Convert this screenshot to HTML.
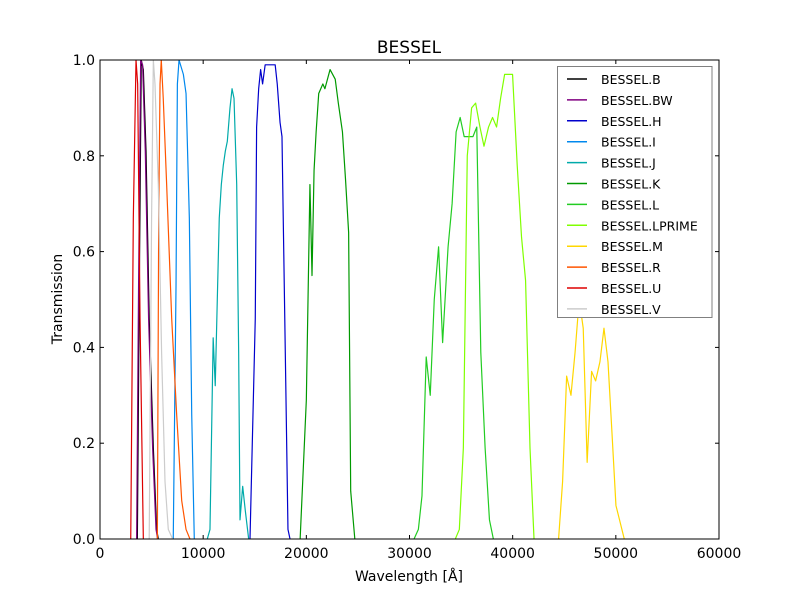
<!DOCTYPE html>
<html><head><meta charset="utf-8">
<style>
body{margin:0;background:#fff;}
svg{display:block;font-family:"DejaVu Sans","Liberation Sans",sans-serif;}
</style></head>
<body>
<svg id="chart" width="800" height="600" viewBox="0 0 800 600" xmlns="http://www.w3.org/2000/svg">
<rect width="800" height="600" fill="#fff"/>
<text x="409" y="53" font-size="17" text-anchor="middle">BESSEL</text>
<g id="plot"></g>
<text x="409" y="581" font-size="14" text-anchor="middle">Wavelength [Å]</text>
<text transform="translate(62,299) rotate(-90)" font-size="14" text-anchor="middle">Transmission</text>
</svg>
<script>
const names = ["BESSEL.B","BESSEL.BW","BESSEL.H","BESSEL.I","BESSEL.J","BESSEL.K","BESSEL.L","BESSEL.LPRIME","BESSEL.M","BESSEL.R","BESSEL.U","BESSEL.V"];
const colors = ["#000000","#800080","#0000cc","#0088ee","#00aaaa","#009900","#22cc22","#80ff00","#ffd700","#ff5500","#dd0000","#cccccc"];
const wlB = [3620,3810,4000,4200,4460,4770,5170,5490,5650];
const trB = [0,0.53,1.0,0.98,0.81,0.46,0.19,0.02,0];
const wlBW = [3550,3740,3940,4130,4390,4710,5100,5430,5590];
const trBW = [0,0.53,1.0,0.99,0.81,0.46,0.19,0.02,0];
const wlH = [14540,15050,15180,15380,15570,15760,16010,16980,17180,17450,17640,17960,18220,18420];
const trH = [0,0.46,0.86,0.94,0.98,0.95,0.99,0.99,0.95,0.87,0.84,0.39,0.02,0];
const wlI = [7100,7370,7500,7660,8080,8340,8660,8890,9140];
const trI = [0,0.53,0.95,1.0,0.97,0.93,0.67,0.26,0];
const wlJ = [10400,10660,10970,11170,11370,11560,11760,11950,12150,12340,12600,12800,12990,13250,13440,13570,13830,14080,14410];
const trJ = [0,0.02,0.42,0.32,0.5,0.67,0.74,0.78,0.81,0.83,0.9,0.94,0.92,0.74,0.39,0.04,0.11,0.06,0];
const wlK = [19400,20000,20350,20550,20750,20950,21200,21400,21600,21800,22300,22800,23100,23500,23800,24100,24300,24700];
const trK = [0,0.29,0.74,0.55,0.77,0.85,0.93,0.94,0.95,0.94,0.98,0.96,0.91,0.85,0.75,0.64,0.1,0];
const wlL = [30440,30860,31210,31620,32010,32400,32820,33210,33740,34130,34520,34910,35300,36150,36520,36910,37330,37750,38130];
const trL = [0,0.02,0.09,0.38,0.3,0.5,0.61,0.41,0.61,0.7,0.85,0.88,0.84,0.84,0.86,0.39,0.19,0.04,0];
const wlLP = [34440,34830,35220,35600,36020,36410,36830,37220,37660,38050,38440,38830,39220,39990,40440,40860,41250,41680,42070];
const trLP = [0,0.02,0.19,0.8,0.9,0.91,0.86,0.82,0.86,0.88,0.86,0.92,0.97,0.97,0.78,0.63,0.54,0.19,0];
const wlM = [44450,44840,45230,45650,46050,46450,46840,47220,47650,48040,48460,48850,49240,49630,50010,50820];
const trM = [0,0.12,0.34,0.3,0.39,0.5,0.44,0.16,0.35,0.33,0.37,0.44,0.37,0.22,0.07,0];
const wlR = [5560,5690,5820,5940,6130,6460,6950,7430,7920,8340,8720];
const trR = [0,0.67,0.95,1.0,0.92,0.74,0.46,0.26,0.08,0.02,0];
const wlU = [2980,3230,3490,3650,3880,4200];
const trU = [0,0.67,1.0,0.95,0.46,0];
const wlV = [4770,5000,5170,5330,5650,5970,6300,6620,7040];
const trV = [0,0.67,1.0,0.95,0.74,0.39,0.12,0.02,0];
const xTicks = [0,10000,20000,30000,40000,50000,60000];
const yTicks = [0.0,0.2,0.4,0.6,0.8,1.0];

const series = [[wlB,trB],[wlBW,trBW],[wlH,trH],[wlI,trI],[wlJ,trJ],[wlK,trK],[wlL,trL],[wlLP,trLP],[wlM,trM],[wlR,trR],[wlU,trU],[wlV,trV]];
const L=100,R=719,T=60,B=539;
const xs = v => L + (v/60000)*(R-L);
const ys = v => B - v*(B-T);
const NS="http://www.w3.org/2000/svg";
const plot=document.getElementById('plot');
function mk(tag, attrs){const e=document.createElementNS(NS,tag);for(const k in attrs)e.setAttribute(k,attrs[k]);return e;}
const clip=mk('clipPath',{id:'clp'});clip.appendChild(mk('rect',{x:L,y:T,width:R-L,height:B-T}));plot.appendChild(clip);
const lines=mk('g',{'clip-path':'url(#clp)'});plot.appendChild(lines);
series.forEach((s,i)=>{
  const pts=s[0].map((w,j)=>xs(w).toFixed(2)+','+ys(s[1][j]).toFixed(2)).join(' ');
  const p=mk('polyline',{points:pts,fill:'none',stroke:colors[i],'stroke-width':1.2,'stroke-linejoin':'round'});
  
  
  lines.appendChild(p);
});
const frame=mk('rect',{x:L,y:T,width:R-L,height:B-T,fill:'none',stroke:'#000','stroke-width':1});


plot.appendChild(frame);
xTicks.forEach(t=>{
  const x=xs(t);
  plot.appendChild(mk('line',{x1:x,y1:B,x2:x,y2:B-4,stroke:'#000'}));
  plot.appendChild(mk('line',{x1:x,y1:T,x2:x,y2:T+4,stroke:'#000'}));
  const tx=mk('text',{x:x,y:B+19,'font-size':14,'text-anchor':'middle'});
  tx.textContent=String(t);
  
  
  plot.appendChild(tx);
});
yTicks.forEach(t=>{
  const y=ys(t);
  plot.appendChild(mk('line',{x1:L,y1:y,x2:L+4,y2:y,stroke:'#000'}));
  plot.appendChild(mk('line',{x1:R,y1:y,x2:R-4,y2:y,stroke:'#000'}));
  const tx=mk('text',{x:L-5,y:y+5,'font-size':14,'text-anchor':'end'});
  tx.textContent=t.toFixed(1);
  
  
  plot.appendChild(tx);
});
const leg=mk('g',{});


plot.appendChild(leg);
leg.appendChild(mk('rect',{x:557.5,y:66.5,width:154.5,height:251,fill:'#fff',stroke:'#808080','stroke-width':1}));
names.forEach((n,i)=>{
  const y=79+20.9*i;
  const g=mk('g',{});
  
  
  g.appendChild(mk('line',{x1:567,y1:y,x2:587,y2:y,stroke:colors[i],'stroke-width':1.5}));
  const tx=mk('text',{x:601,y:y+5,'font-size':12.5});
  tx.textContent=n;
  g.appendChild(tx);
  leg.appendChild(g);
});
</script>
</body></html>
